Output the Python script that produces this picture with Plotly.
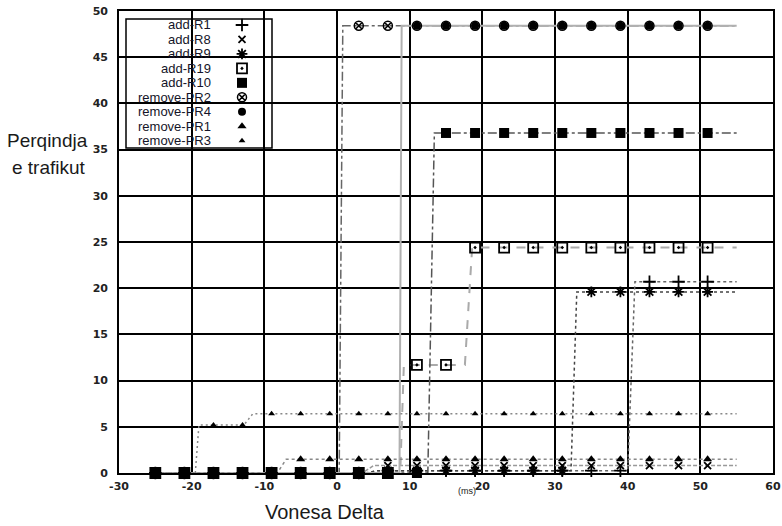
import plotly.graph_objects as go

# ---------------- data ----------------
MARK_X = [-25, -21, -17, -13, -9, -5, -1, 3, 7, 11, 15, 19, 23, 27, 31, 35, 39, 43, 47, 51]

NAMES = ["add-R1", "add-R8", "add-R9", "add-R19", "add-R10",
         "remove-PR2", "remove-PR4", "remove-PR1", "remove-PR3"]

# marker values at MARK_X
ADD_R1_Y = [0, 0, 0, 0, 0, 0, 0, 0, 0.25, 0.25, 0.25, 0.25, 0.25, 0.25, 0.25, 0.25, 0.25, 20.7, 20.7, 20.7]
ADD_R8_Y = [0, 0, 0, 0, 0, 0, 0, 0, 0.8, 0.8, 0.8, 0.8, 0.8, 0.8, 0.8, 0.8, 0.8, 0.8, 0.8, 0.8]
ADD_R9_Y = [0, 0, 0, 0, 0, 0, 0, 0, 0.25, 0.25, 0.25, 0.25, 0.25, 0.25, 0.25, 19.6, 19.6, 19.6, 19.6, 19.6]
ADD_R19_Y = [0, 0, 0, 0, 0, 0, 0, 0, 0, 11.7, 11.7, 24.4, 24.4, 24.4, 24.4, 24.4, 24.4, 24.4, 24.4, 24.4]
ADD_R10_Y = [0, 0, 0, 0, 0, 0, 0, 0, 0, 0, 36.8, 36.8, 36.8, 36.8, 36.8, 36.8, 36.8, 36.8, 36.8, 36.8]
REM_PR2_Y = [0, 0, 0, 0, 0, 0, 0, 48.4, 48.4, 48.4, 48.4, 48.4, 48.4, 48.4, 48.4, 48.4, 48.4, 48.4, 48.4, 48.4]
REM_PR4_Y = [0, 0, 0, 0, 0, 0, 0, 0, 0, 48.4, 48.4, 48.4, 48.4, 48.4, 48.4, 48.4, 48.4, 48.4, 48.4, 48.4]
REM_PR1_Y = [0, 0, 0, 0, 0, 1.5, 1.5, 1.5, 1.5, 1.5, 1.5, 1.5, 1.5, 1.5, 1.5, 1.5, 1.5, 1.5, 1.5, 1.5]
REM_PR3_Y = [0, 0, 5.2, 5.2, 6.4, 6.4, 6.4, 6.4, 6.4, 6.4, 6.4, 6.4, 6.4, 6.4, 6.4, 6.4, 6.4, 6.4, 6.4, 6.4]

# step-line breakpoints of each curve
ADD_R1_LX = [-25, 4, 5.5, 40, 41, 55]
ADD_R1_LY = [0, 0, 0.25, 0.25, 20.7, 20.7]
ADD_R8_LX = [-25, 3.5, 5, 55]
ADD_R8_LY = [0, 0, 0.8, 0.8]
ADD_R9_LX = [-25, 4, 5.5, 32.2, 33, 55]
ADD_R9_LY = [0, 0, 0.25, 0.25, 19.6, 19.6]
ADD_R19_LX = [-25, 8.7, 9.2, 17.6, 18.6, 55]
ADD_R19_LY = [0, 0, 11.7, 11.7, 24.4, 24.4]
ADD_R10_LX = [-25, 12.5, 13.4, 55]
ADD_R10_LY = [0, 0, 36.8, 36.8]
REM_PR2_LX = [-25, 0.3, 0.8, 55]
REM_PR2_LY = [0, 0, 48.4, 48.4]
REM_PR4_LX = [-25, 8.6, 8.9, 55]
REM_PR4_LY = [0, 0, 48.4, 48.4]
REM_PR1_LX = [-25, -8.2, -7.0, 55]
REM_PR1_LY = [0, 0, 1.5, 1.5]
REM_PR3_LX = [-25, -19.5, -19.0, -12.8, -11.6, 55]
REM_PR3_LY = [0, 0, 5.2, 5.2, 6.4, 6.4]

X_TICKS = [-30, -20, -10, 0, 10, 20, 30, 40, 50, 60]
Y_TICKS = [0, 5, 10, 15, 20, 25, 30, 35, 40, 45, 50]

MARK_Y = [ADD_R1_Y, ADD_R8_Y, ADD_R9_Y, ADD_R19_Y, ADD_R10_Y,
          REM_PR2_Y, REM_PR4_Y, REM_PR1_Y, REM_PR3_Y]
LINE_X = [ADD_R1_LX, ADD_R8_LX, ADD_R9_LX, ADD_R19_LX, ADD_R10_LX,
          REM_PR2_LX, REM_PR4_LX, REM_PR1_LX, REM_PR3_LX]
LINE_Y = [ADD_R1_LY, ADD_R8_LY, ADD_R9_LY, ADD_R19_LY, ADD_R10_LY,
          REM_PR2_LY, REM_PR4_LY, REM_PR1_LY, REM_PR3_LY]

# ---------------- styles ----------------
LINE_STYLE = [
    dict(color="#666666", dash="dot", width=1.5),
    dict(color="#999999", dash="4px,2px", width=1.5),
    dict(color="#444444", dash="dot", width=1.5),
    dict(color="#aaaaaa", dash="dash", width=2),
    dict(color="#555555", dash="dashdot", width=1.5),
    dict(color="#666666", dash="dashdot", width=1.5),
    dict(color="#b0b0b0", dash="solid", width=2),
    dict(color="#888888", dash="dot", width=1.5),
    dict(color="#888888", dash="2px,3px", width=1.5),
]
MARK_STYLE = [
    dict(symbol="cross-thin-open", size=9, color="black", line=dict(color="black", width=1.8)),
    dict(symbol="x-thin-open", size=7, color="black", line=dict(color="black", width=1.8)),
    dict(symbol="asterisk-open", size=9, color="black", line=dict(color="black", width=1.8)),
    dict(symbol="square-open-dot", size=10, color="black", line=dict(color="black", width=1.8)),
    dict(symbol="square", size=10, color="black", line=dict(width=0)),
    dict(symbol="circle-x-open", size=9, color="black", line=dict(color="black", width=1.5)),
    dict(symbol="circle", size=8, color="black", line=dict(width=0)),
    dict(symbol="triangle-up", size=8, color="black", line=dict(width=0)),
    dict(symbol="triangle-up", size=6, color="black", line=dict(width=0)),
]

# ---------------- layout geometry (pixels) ----------------
W, H = 782, 526
ML, MR, MT, MB = 119, 9, 11, 53
PW, PH = W - ML - MR, H - MT - MB
XR, YR = [-30, 60], [0, 50]

def px_to_paper_x(px):
    return (px - ML) / PW

def px_to_paper_y(py):
    return (H - MB - py) / PH

fig = go.Figure()

for i in range(len(NAMES)):
    fig.add_trace(go.Scatter(x=LINE_X[i], y=LINE_Y[i], mode="lines",
                             line=LINE_STYLE[i], showlegend=False,
                             hoverinfo="skip", cliponaxis=False))
for i in range(len(NAMES)):
    fig.add_trace(go.Scatter(x=MARK_X, y=MARK_Y[i], mode="markers", name=NAMES[i],
                             marker=MARK_STYLE[i], showlegend=False, cliponaxis=False))

# ---------------- hand-built key (text right-aligned, symbol on the right) ----------------
KEY_TOP, KEY_STEP = 25.0, 14.46
KEY_TEXT_RIGHT, KEY_SYM_X = 213, 242
key_rows_px = [KEY_TOP + KEY_STEP * i for i in range(len(NAMES))]
key_sym_x = XR[0] + (KEY_SYM_X - ML) / PW * (XR[1] - XR[0])
for i, name in enumerate(NAMES):
    ry = key_rows_px[i]
    fig.add_annotation(x=px_to_paper_x(KEY_TEXT_RIGHT), y=px_to_paper_y(ry),
                       xref="paper", yref="paper", text=name, showarrow=False,
                       xanchor="right", yanchor="middle",
                       font=dict(family="Liberation Sans, Arial", size=13, color="#141428"))
    fig.add_trace(go.Scatter(x=[key_sym_x],
                             y=[YR[0] + (H - MB - ry) / PH * (YR[1] - YR[0])],
                             mode="markers", marker=MARK_STYLE[i], showlegend=False,
                             hoverinfo="skip", cliponaxis=False))

fig.add_shape(type="rect", xref="paper", yref="paper",
              x0=px_to_paper_x(126), x1=px_to_paper_x(272),
              y0=px_to_paper_y(148), y1=px_to_paper_y(19),
              line=dict(color="black", width=1.5), fillcolor="white", layer="between")

# axis titles
title_font = dict(family="Liberation Sans, Arial", size=19, color="#1a1a1a")
fig.add_annotation(x=px_to_paper_x(5), y=px_to_paper_y(140), xref="paper", yref="paper",
                   text="Perqindja", showarrow=False, xanchor="left", yanchor="middle",
                   font=title_font)
fig.add_annotation(x=px_to_paper_x(10), y=px_to_paper_y(167), xref="paper", yref="paper",
                   text="e trafikut", showarrow=False, xanchor="left", yanchor="middle",
                   font=title_font)
fig.add_annotation(x=px_to_paper_x(325), y=px_to_paper_y(512), xref="paper", yref="paper",
                   text="Vonesa Delta", showarrow=False, xanchor="center", yanchor="middle",
                   font=dict(family="Liberation Sans, Arial", size=20, color="#1a1a1a"))
fig.add_annotation(x=px_to_paper_x(467), y=px_to_paper_y(491), xref="paper", yref="paper",
                   text="(ms)", showarrow=False, xanchor="center", yanchor="middle",
                   font=dict(family="Liberation Sans, Arial", size=9, color="#1a1a1a"))

tick_font = dict(family="DejaVu Sans", size=11, color="#222222", weight="bold")
fig.update_xaxes(range=XR, tickvals=X_TICKS, ticktext=[str(v) for v in X_TICKS],
                 showgrid=True, gridcolor="black", gridwidth=1.6, zeroline=False,
                 showline=True, mirror=True, linecolor="black", linewidth=1.6,
                 ticks="", tickfont=tick_font, ticklabelstandoff=2, automargin=False)
fig.update_yaxes(range=YR, tickvals=Y_TICKS, ticktext=[str(v) for v in Y_TICKS],
                 showgrid=True, gridcolor="black", gridwidth=1.6, zeroline=False,
                 showline=True, mirror=True, linecolor="black", linewidth=1.6,
                 ticks="", tickfont=tick_font, ticklabelstandoff=7, automargin=False)

fig.update_layout(width=W, height=H, margin=dict(l=ML, r=MR, t=MT, b=MB),
                  paper_bgcolor="white", plot_bgcolor="white", showlegend=False)

fig.write_html("out.html", config={"displayModeBar": False},
               post_script="document.body.style.margin='0';document.body.style.padding='0';"
                           "document.body.style.overflow='hidden';")
